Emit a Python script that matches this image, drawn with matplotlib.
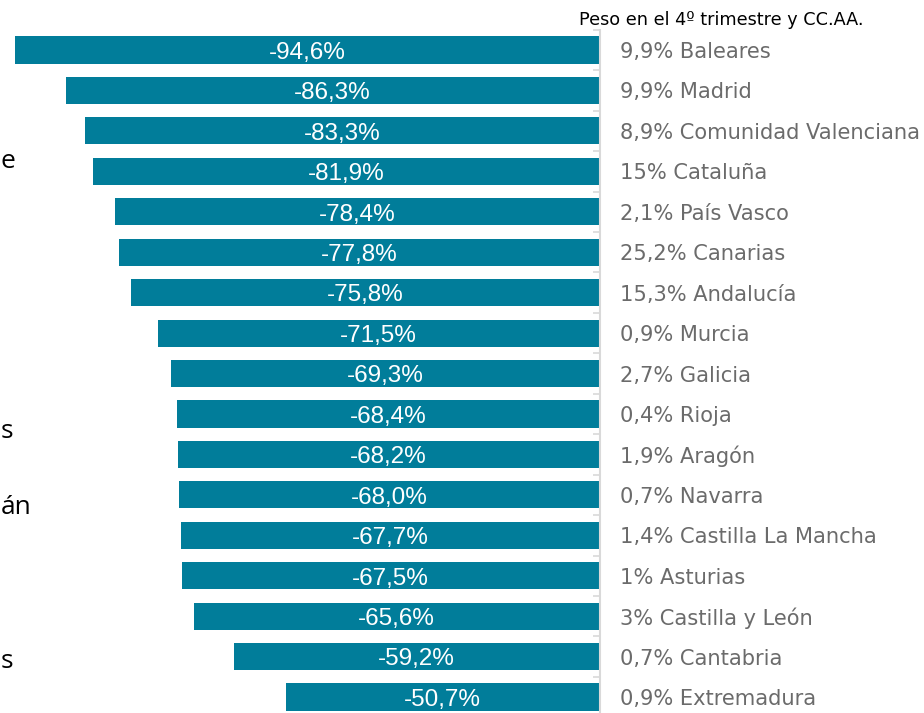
import matplotlib.pyplot as plt
import numpy as np

# Caída por CC.AA. y peso en el 4º trimestre
regiones = ["Baleares", "Madrid", "Comunidad Valenciana", "Cataluña", "País Vasco",
            "Canarias", "Andalucía", "Murcia", "Galicia", "Rioja", "Aragón", "Navarra",
            "Castilla La Mancha", "Asturias", "Castilla y León", "Cantabria", "Extremadura"]
variacion = [-94.6, -86.3, -83.3, -81.9, -78.4, -77.8, -75.8, -71.5, -69.3, -68.4,
             -68.2, -68.0, -67.7, -67.5, -65.6, -59.2, -50.7]
peso = ["9,9%", "9,9%", "8,9%", "15%", "2,1%", "25,2%", "15,3%", "0,9%", "2,7%", "0,4%",
        "1,9%", "0,7%", "1,4%", "1%", "3%", "0,7%", "0,9%"]

# fragmentos de texto en el borde izquierdo (texto, y px)
fragmentos = [("e", 162), ("s", 432), ("án", 508), ("s", 661)]

W, H = 924, 713
fig = plt.figure(figsize=(W / 100, H / 100), dpi=100)
ax = fig.add_axes([0, 0, 1, 1])

px = 6.173          # pixels per unit
x0 = 599            # pixel of zero
ax.set_xlim(-x0 / px, (W - x0) / px)
ax.set_ylim((H - 50) / 40.44, -50 / 40.44)

y = np.arange(len(regiones))
ax.barh(y, variacion, height=0.67, color="#017D9A")

for yi, v, p, r in zip(y, variacion, peso, regiones):
    ax.text(v / 2, yi + 0.07, f"{v:.1f}%".replace(".", ","), ha="center", va="center",
            color="white", fontsize=17.5, family="Liberation Sans")
    ax.text(21 / px, yi + 0.05, f"{p} {r}", ha="left", va="center",
            color="#6b6b6b", fontsize=15.1, family="DejaVu Sans")

for s in ["top", "right", "bottom"]:
    ax.spines[s].set_visible(False)
ax.spines["left"].set_position(("data", 0.15))
ax.spines["left"].set_bounds(-0.5, len(regiones) - 0.5)
ax.spines["left"].set_color("#d9d9d9")
ax.spines["left"].set_linewidth(1.5)
ax.set_yticks(np.arange(len(regiones)) - 0.5)
ax.tick_params(axis="y", direction="out", length=5, color="#d9d9d9", width=1.2,
               labelleft=False)
ax.set_xticks([])

fig.text(579 / W, 1 - 20 / H, "Peso en el 4º trimestre y CC.AA.", ha="left", va="center",
         fontsize=12.7, color="black", family="DejaVu Sans")

for t, yc in fragmentos:
    fig.text(1 / W, 1 - yc / H, t, ha="left", va="center", fontsize=19,
             color="black", family="Open Sans")

fig.savefig("out.png", dpi=100)
